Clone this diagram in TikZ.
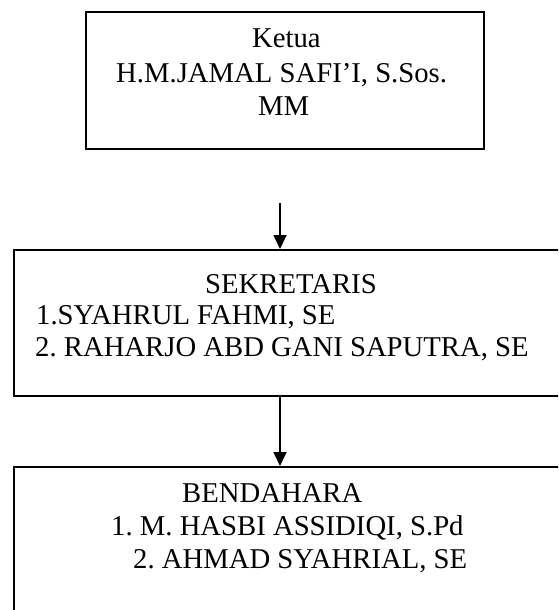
\documentclass[tikz,border=0pt]{standalone}
\usepackage{fontspec}
\setmainfont{Liberation Serif}
\usetikzlibrary{arrows.meta}
\frenchspacing
\tikzset{
	kotak/.style={draw, line width=1.8pt, inner sep=0pt, anchor=north west},
	baris/.style={anchor=base west, inner sep=0pt, font=\fontsize{28.7}{33}\selectfont},
	panah/.style={line width=1.8pt, -{Triangle[length=14pt,width=13pt]}}
}
\begin{document}
\begin{tikzpicture}[x=1pt, y=-1pt]
		\useasboundingbox (0,0) rectangle (558,610) ;
		\clip (0,0) rectangle (558,610) ;
\par
\node[kotak, minimum width=398pt, minimum height=137pt] (ketua) at (85,11) {} ;
		\node[kotak, minimum width=570pt, minimum height=146pt] (sekretaris) at (13,249) {} ;
		\node[kotak, minimum width=570pt, minimum height=200pt] (bendahara) at (13,466) {} ;
\par
\node[baris] (k1) at (252,48) {Ketua} ;
		\node[baris] (k2) at (116,82) {H.M.JAMAL SAFI’I, S.Sos.} ;
		\node[baris] (k3) at (258,115) {MM} ;
\par
\node[baris] (s1) at (205,293) {SEKRETARIS} ;
		\node[baris] (s2) at (36,324) {1.SYAHRUL FAHMI, SE} ;
		\node[baris] (s3) at (35,356) {2. RAHARJO ABD GANI SAPUTRA, SE} ;
\par
\node[baris] (b1) at (182,502) {BENDAHARA} ;
		\node[baris] (b2) at (111,535) {1. M. HASBI ASSIDIQI, S.Pd} ;
		\node[baris] (b3) at (133,568) {2. AHMAD SYAHRIAL, SE} ;
\par
\coordinate (p1) at (280,203) ;
		\draw[panah] (p1) -- (p1 |- sekretaris.north) ;
		\draw[panah] (p1 |- sekretaris.south) -- (p1 |- bendahara.north) ;
	\end{tikzpicture}
\end{document}
